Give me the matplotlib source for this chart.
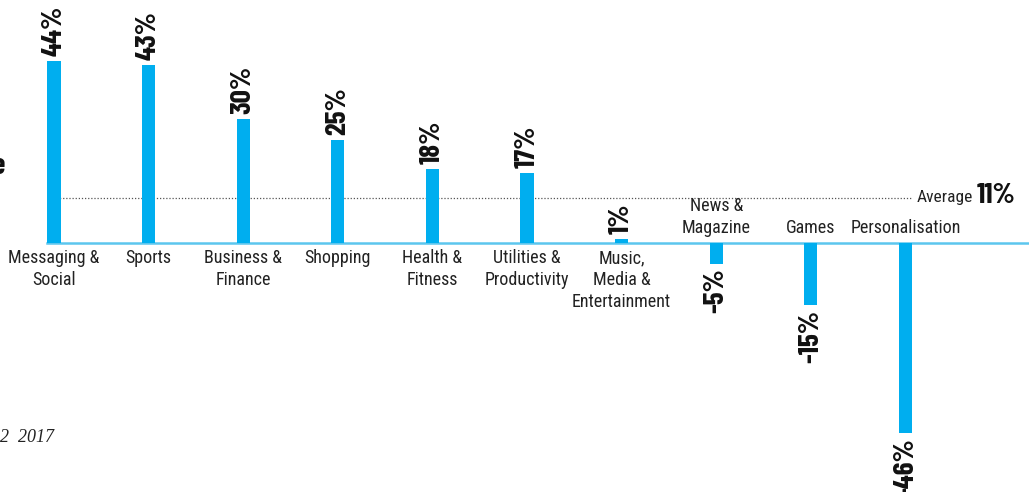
import matplotlib
matplotlib.use("Agg")
import matplotlib.pyplot as plt
import numpy as np

categories = ["Messaging &\nSocial", "Sports", "Business &\nFinance", "Shopping",
              "Health &\nFitness", "Utilities &\nProductivity", "Music,\nMedia &\nEntertainment",
              "News &\nMagazine", "Games", "Personalisation"]
values = [44, 43, 30, 25, 18, 17, 1, -5, -15, -46]
average = 11

BLUE = "#00aeef"
LINE_BLUE = "#5cc6ee"
LABEL_FONT = ["Roboto Condensed", "DejaVu Sans"]
VALUE_FONT = ["Barlow Condensed", "Roboto Condensed", "DejaVu Sans"]

fig = plt.figure(figsize=(10.29, 4.92), dpi=100)
ax = fig.add_axes([0, 0, 1, 1])
ax.axis("off")

px_x = 94.6   # pixels per category
px_y = 4.13   # pixels per percent
x0, y0 = 54, 243
ax.set_xlim(-x0 / px_x, (1029 - x0) / px_x)
ax.set_ylim(-(492 - y0) / px_y, y0 / px_y)

x = np.arange(len(values))
ax.bar(x, values, width=0.14, color=BLUE, zorder=3)

# baseline and average line
ax.plot([-0.075, (1029 - x0) / px_x], [0, 0], color=LINE_BLUE, lw=1.8, zorder=2)
ax.plot([-0.075, (912 - x0) / px_x], [average, average], color="#555555",
        lw=0.9, ls=(0, (1, 1.5)), zorder=1)
ax.text((917 - x0) / px_x, average, "Average", family=LABEL_FONT, fontsize=12.5,
        ha="left", va="center", color="#222222")
ax.text((977 - x0) / px_x, average + 0.5, "11%", family=VALUE_FONT, fontsize=21,
        fontweight="bold", ha="left", va="center", color="#111111")

dy = 5 / px_y
for xi, v, cat in zip(x, values, categories):
    if v >= 0:
        ax.text(xi, v + dy, f"{v}%", family=VALUE_FONT, fontsize=21, fontweight="bold",
                rotation=90, ha="center", va="bottom", color="#111111")
        ax.text(xi, -1.5, cat, family=LABEL_FONT, fontsize=13, ha="center", va="top",
                linespacing=1.27, color="#222222")
    else:
        ax.text(xi, v - dy, f"{v}%", family=VALUE_FONT, fontsize=21, fontweight="bold",
                rotation=90, ha="center", va="top", color="#111111")
        ax.text(xi, 1.4, cat, family=LABEL_FONT, fontsize=13, ha="center", va="bottom",
                linespacing=1.27, color="#222222")

# cropped remnants at the left edge
ax.text(5 / px_x - x0 / px_x, (y0 - 166) / px_y, "e", family=VALUE_FONT, fontsize=22,
        fontweight="bold", ha="right", va="center", color="#111111")
ax.text(-x0 / px_x, -(437 - y0) / px_y, "2  2017", family="Liberation Serif",
        style="italic", fontsize=13, ha="left", va="center", color="#222222")

fig.savefig("out.png", dpi=100)
